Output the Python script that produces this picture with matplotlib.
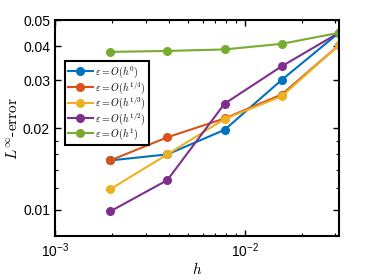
import matplotlib
matplotlib.use("Agg")
import matplotlib.pyplot as plt
from matplotlib.ticker import FixedLocator, NullFormatter, LogLocator, LogFormatterMathtext

plt.rcParams['font.family'] = ['Liberation Sans', 'DejaVu Sans']
plt.rcParams['mathtext.fontset'] = 'cm'

# mesh sizes
h = [1/512, 1/256, 1/128, 1/64, 1/32]

# L-infinity errors for each epsilon scaling
err_h0 = [0.0152, 0.0160, 0.0197, 0.0301, 0.0449]
err_h14 = [0.0152, 0.0185, 0.0217, 0.0266, 0.0404]
err_h13 = [0.0119, 0.0160, 0.0216, 0.0262, 0.0404]
err_h12 = [0.00986, 0.01286, 0.0246, 0.0338, 0.0449]
err_h1 = [0.0382, 0.0385, 0.0390, 0.0409, 0.0449]

labels = [r'$\varepsilon = O(h^0)$', r'$\varepsilon = O(h^{1/4})$',
          r'$\varepsilon = O(h^{1/3})$', r'$\varepsilon = O(h^{1/2})$',
          r'$\varepsilon = O(h^1)$']
colors = ['#0072BD', '#D95319', '#EDB120', '#7E2F8E', '#77AC30']

fig = plt.figure(figsize=(3.74, 2.8), dpi=100)
ax = fig.add_axes([0.147, 0.157, 0.759, 0.771])

for err, lab, c in zip([err_h0, err_h14, err_h13, err_h12, err_h1], labels, colors):
    ax.plot(h, err, '-o', color=c, label=lab, linewidth=1.5, markersize=5.5)

ax.set_xscale('log')
ax.set_yscale('log')
ax.set_xlim(1e-3, 1/32)
ax.set_ylim(0.008, 0.05)

ax.yaxis.set_major_locator(FixedLocator([0.01, 0.02, 0.03, 0.04, 0.05]))
ax.yaxis.set_minor_locator(FixedLocator([0.012, 0.014, 0.016, 0.018]))
ax.yaxis.set_minor_formatter(NullFormatter())
ax.set_yticklabels(['0.01', '0.02', '0.03', '0.04', '0.05'])
ax.xaxis.set_major_locator(LogLocator(base=10))
ax.xaxis.set_major_formatter(LogFormatterMathtext())
ax.xaxis.set_minor_locator(LogLocator(base=10, subs=range(2, 10)))
ax.xaxis.set_minor_formatter(NullFormatter())

ax.tick_params(which='both', direction='in', top=True, right=True, labelsize=10)
ax.tick_params(which='major', length=4, width=1)
ax.tick_params(which='minor', length=2.5, width=0.8)
for s in ax.spines.values():
    s.set_linewidth(1.5)

ax.set_xlabel(r'$h$', fontsize=11, labelpad=1)
ax.set_ylabel(r'$L^{\infty}\text{-error}$', fontsize=11, labelpad=2)

leg = ax.legend(loc='upper left', bbox_to_anchor=(0.035, 0.81), fontsize=7.2,
                fancybox=False, framealpha=1, edgecolor='black',
                borderpad=0.3, labelspacing=-0.08, handlelength=2.5,
                handletextpad=0.25, borderaxespad=0)
leg.get_frame().set_linewidth(1.5)

fig.savefig('out.png', dpi=100)
